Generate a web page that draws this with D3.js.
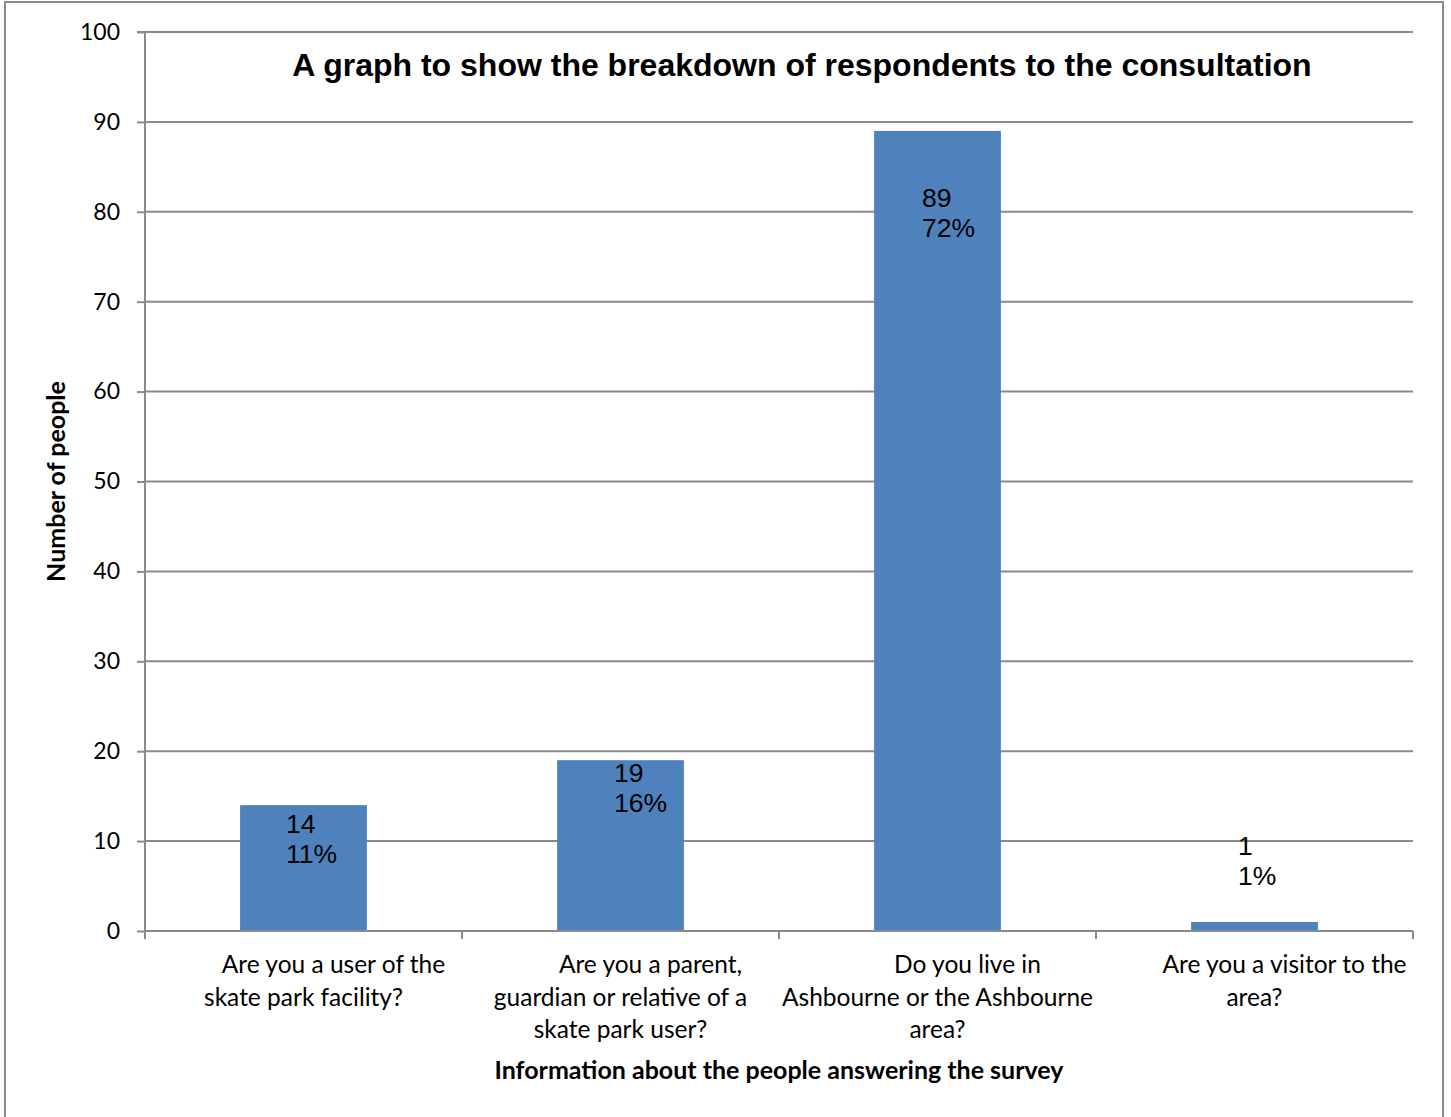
<!DOCTYPE html>
<html>
<head>
<meta charset="utf-8">
<script src="https://cdn.jsdelivr.net/npm/d3@7"></script>
<style>
  html, body { margin: 0; padding: 0; background: #fff; }
  svg { display: block; }
</style>
</head>
<body>
<svg id="chart" width="1451" height="1117"></svg>
<script>
// Survey respondents by question
const categories = [
  "Are you a user of the skate park facility?",
  "Are you a parent, guardian or relative of a skate park user?",
  "Do you live in Ashbourne or the Ashbourne area?",
  "Are you a visitor to the area?"
];
const categoryLines = [
  ["Are you a user of the", "skate park facility?"],
  ["Are you a parent,", "guardian or relative of a", "skate park user?"],
  ["Do you live in", "Ashbourne or the Ashbourne", "area?"],
  ["Are you a visitor to the", "area?"]
];
const counts = [14, 19, 89, 1];
const percentLabels = ["11%", "16%", "72%", "1%"];
const yTicks = [0, 10, 20, 30, 40, 50, 60, 70, 80, 90, 100];

const titleText = "A graph to show the breakdown of respondents to the consultation";
const yTitle = "Number of people";
const xTitle = "Information about the people answering the survey";

const svg = d3.select("#chart");
const W = 1451, H = 1117;
const plot = { left: 145, right: 1413, top: 32, bottom: 931 };
const gridColor = "#8a8a8a";
const barColor = "#4f81bd";
const labelFont = "Lato, 'Open Sans', sans-serif";
const valueFont = "'Liberation Sans', Arial, sans-serif";

// chart area frame
svg.append("rect")
  .attr("x", 5).attr("y", 2)
  .attr("width", 1438).attr("height", H + 10)
  .attr("fill", "#fff")
  .attr("stroke", "#8c8c8c").attr("stroke-width", 2);

const x = d3.scaleBand().domain(categories).range([plot.left, plot.right]).padding(0);
const y = d3.scaleLinear().domain([0, 100]).range([plot.bottom, plot.top]);
const barW = x.bandwidth() * 0.4;

// horizontal gridlines
svg.append("g").selectAll("line")
  .data(yTicks.filter(d => d > 0))
  .join("line")
  .attr("x1", plot.left).attr("x2", plot.right)
  .attr("y1", d => y(d)).attr("y2", d => y(d))
  .attr("stroke", gridColor).attr("stroke-width", 2);

// y axis
const yAxis = svg.append("g")
  .attr("transform", `translate(${plot.left},0)`)
  .call(d3.axisLeft(y).tickValues(yTicks).tickSize(8).tickPadding(17));
yAxis.select(".domain").attr("stroke", gridColor).attr("stroke-width", 2)
  .attr("d", `M-8,${plot.top}H0V${plot.bottom + 8}`);
yAxis.selectAll(".tick line").attr("stroke", gridColor).attr("stroke-width", 2);
yAxis.selectAll(".tick text")
  .attr("font-family", labelFont).attr("font-size", 23).attr("fill", "#000");

// bars
svg.append("g").selectAll("rect")
  .data(categories)
  .join("rect")
  .attr("x", d => x(d) + (x.bandwidth() - barW) / 2)
  .attr("width", barW)
  .attr("y", (d, i) => y(counts[i]))
  .attr("height", (d, i) => y(0) - y(counts[i]))
  .attr("fill", barColor);

// x axis baseline with ticks at category boundaries
const xAxis = svg.append("g");
xAxis.append("line")
  .attr("x1", plot.left).attr("x2", plot.right)
  .attr("y1", plot.bottom).attr("y2", plot.bottom)
  .attr("stroke", gridColor).attr("stroke-width", 2);
const bounds = categories.map(d => x(d)).concat([plot.right]);
xAxis.selectAll("line.tk")
  .data(bounds)
  .join("line").attr("class", "tk")
  .attr("x1", d => d).attr("x2", d => d)
  .attr("y1", plot.bottom).attr("y2", plot.bottom + 8)
  .attr("stroke", gridColor).attr("stroke-width", 2);

// category labels, wrapped and centred under each bar
const catG = svg.append("g")
  .attr("font-family", labelFont).attr("font-size", 24.5)
  .attr("fill", "#000").attr("text-anchor", "middle");
categories.forEach((c, i) => {
  const cx = x(c) + x.bandwidth() / 2;
  const t = catG.append("text").attr("y", 973);
  categoryLines[i].forEach((line, j) => {
    t.append("tspan")
      .attr("x", cx + (j === 0 ? 30 : 0))
      .attr("y", 973 + j * 32.5)
      .text(line);
  });
});

// data labels: count and share, placed at the top of each bar
const labelNudge = [[-17.5, 28], [-6.5, 22], [-15.5, 76], [-16.5, -67]];
const valG = svg.append("g")
  .attr("font-family", valueFont).attr("font-size", 26.5).attr("fill", "#000");
categories.forEach((c, i) => {
  const cx = x(c) + x.bandwidth() / 2;
  const top = y(counts[i]);
  const t = valG.append("text");
  t.append("tspan").attr("x", cx + labelNudge[i][0]).attr("y", top + labelNudge[i][1]).text(counts[i]);
  t.append("tspan").attr("x", cx + labelNudge[i][0]).attr("y", top + labelNudge[i][1] + 30).text(percentLabels[i]);
});

// title
svg.append("text")
  .attr("x", 802).attr("y", 76)
  .attr("text-anchor", "middle")
  .attr("font-family", valueFont).attr("font-weight", "bold").attr("font-size", 32)
  .attr("fill", "#000")
  .text(titleText);

// axis titles
svg.append("text")
  .attr("transform", `translate(65,${(plot.top + plot.bottom) / 2}) rotate(-90)`)
  .attr("text-anchor", "middle")
  .attr("font-family", labelFont).attr("font-weight", "bold").attr("font-size", 25)
  .attr("fill", "#000")
  .text(yTitle);

svg.append("text")
  .attr("x", (plot.left + plot.right) / 2).attr("y", 1079)
  .attr("text-anchor", "middle")
  .attr("font-family", labelFont).attr("font-weight", "bold").attr("font-size", 25)
  .attr("fill", "#000")
  .text(xTitle);
</script>
</body>
</html>
